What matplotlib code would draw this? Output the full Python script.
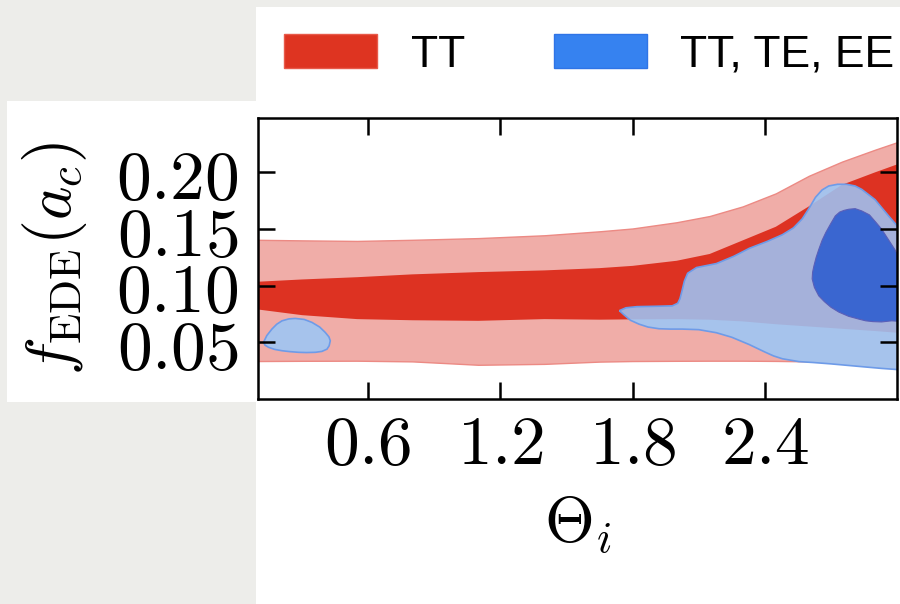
import matplotlib
matplotlib.use('Agg')
import matplotlib.pyplot as plt
from matplotlib.patches import Patch, Rectangle

plt.rcParams['mathtext.fontset'] = 'cm'

# TT chain: 1 and 2 sigma bands, theta_i vs f_EDE
red_x = [0.10, 0.30, 0.55, 0.80, 1.10, 1.40, 1.65, 1.80, 2.00, 2.15, 2.30, 2.45, 2.60, 2.75, 2.90, 3.00]
red_2s_hi = [0.1405, 0.1400, 0.1395, 0.1405, 0.1420, 0.1445, 0.1480, 0.1505, 0.1560, 0.1615,
             0.1700, 0.1815, 0.1970, 0.2095, 0.2200, 0.2266]
red_2s_lo = [0.0335, 0.0337, 0.0338, 0.0332, 0.0302, 0.0310, 0.0330, 0.0335, 0.0337, 0.0338,
             0.0338, 0.0336, 0.0332, 0.0325, 0.0316, 0.0310]
red_1s_hi = [0.1035, 0.1055, 0.1075, 0.1100, 0.1120, 0.1135, 0.1155, 0.1175, 0.1220, 0.1280,
             0.1400, 0.1520, 0.1700, 0.1890, 0.2000, 0.2070]
red_1s_lo = [0.0790, 0.0740, 0.0705, 0.0695, 0.0690, 0.0705, 0.0700, 0.0703, 0.0705, 0.0700,
             0.0685, 0.0660, 0.0640, 0.0620, 0.0600, 0.0585]

# TT,TE,EE chain: 2 sigma contour (big region + small island), 1 sigma contour
blue_2s_x = [1.74, 1.77, 1.82, 1.90, 1.98, 2.005, 2.015, 2.025, 2.035, 2.05, 2.09, 2.18, 2.26,
             2.33, 2.41, 2.48, 2.53, 2.57, 2.60, 2.63, 2.66, 2.69, 2.73, 2.77, 2.81, 2.84, 2.90,
             2.96, 3.00, 3.05, 3.05, 3.00, 2.93, 2.86, 2.78, 2.70, 2.62, 2.555, 2.48, 2.44, 2.40,
             2.33, 2.25, 2.18, 2.10, 2.025, 1.97, 1.92, 1.87, 1.83, 1.79, 1.76]
blue_2s_y = [0.078, 0.0805, 0.0815, 0.0818, 0.0822, 0.0845, 0.0885, 0.0960, 0.1040, 0.1110,
             0.1160, 0.1195, 0.1260, 0.1330, 0.1390, 0.1450, 0.1510, 0.1590, 0.1680, 0.1780,
             0.1845, 0.1880, 0.1895, 0.1895, 0.1880, 0.1850, 0.1760, 0.1620, 0.1530, 0.1400,
             0.0200, 0.0260, 0.0270, 0.0282, 0.0296, 0.0310, 0.0322, 0.0330, 0.0355, 0.0380,
             0.0415, 0.0480, 0.0545, 0.0585, 0.0612, 0.0617, 0.0617, 0.0620, 0.0635, 0.0660,
             0.0695, 0.0745]
blue_isl_x = [0.125, 0.140, 0.163, 0.185, 0.209, 0.240, 0.269, 0.310, 0.345, 0.380, 0.405, 0.422,
              0.428, 0.423, 0.413, 0.390, 0.360, 0.320, 0.284, 0.245, 0.209, 0.175, 0.148, 0.132]
blue_isl_y = [0.0500, 0.0560, 0.0617, 0.0660, 0.0690, 0.0707, 0.0711, 0.0702, 0.0676, 0.0635,
              0.0588, 0.0548, 0.0514, 0.0470, 0.0440, 0.0420, 0.0412, 0.0410, 0.0412, 0.0418,
              0.0426, 0.0438, 0.0456, 0.0475]
blue_1s_x = [2.76, 2.782, 2.81, 2.84, 2.875, 2.904, 2.93, 2.95, 2.99, 3.05, 3.05, 2.976, 2.93,
             2.89, 2.858, 2.827, 2.78, 2.736, 2.70, 2.67, 2.645, 2.625, 2.615, 2.617, 2.623,
             2.633, 2.645, 2.660, 2.677, 2.70, 2.72, 2.74]
blue_1s_y = [0.1665, 0.1675, 0.1680, 0.1660, 0.1625, 0.1560, 0.1500, 0.1440, 0.1320, 0.1100,
             0.0680, 0.0690, 0.0680, 0.0683, 0.0690, 0.0705, 0.0730, 0.0767, 0.0810, 0.0860,
             0.0910, 0.0985, 0.1060, 0.1120, 0.1175, 0.1250, 0.1320, 0.1400, 0.1470, 0.1550,
             0.1616, 0.1650]

x_ticks = [0.6, 1.2, 1.8, 2.4]
y_ticks = [0.05, 0.10, 0.15, 0.20]
labels = ['TT', 'TT, TE, EE']

c_red_light = '#F0ADA8'
c_red_dark = '#DD3222'
c_blue_light = '#A6C3EC'
c_blue_mix = '#A5B1DA'
c_blue_dark = '#3A66D0'

fig = plt.figure(figsize=(9, 6.04), dpi=100, facecolor='#EDEDEA')
# white paper pieces behind the plot
fig.patches.append(Rectangle((256 / 900, 0), 1, 1 - 7 / 604, transform=fig.transFigure,
                             facecolor='white', edgecolor='none', zorder=-10))
fig.patches.append(Rectangle((7 / 900, 1 - 402 / 604), 0.3, 301 / 604, transform=fig.transFigure,
                             facecolor='white', edgecolor='none', zorder=-10))

ax = fig.add_axes([258 / 900, 1 - 399 / 604, 639 / 900, 281 / 604])
ax.set_facecolor('white')

ax.fill_between(red_x, red_2s_lo, red_2s_hi, facecolor=c_red_light, edgecolor='#EC8A84', lw=1.0)
red_core = ax.fill(red_x + red_x[::-1], red_1s_lo + red_1s_hi[::-1], facecolor=c_red_dark,
                   edgecolor='none')[0]

ax.fill(blue_isl_x, blue_isl_y, facecolor=c_blue_light, edgecolor='#6E9BE8', lw=1.2)
ax.fill(blue_2s_x, blue_2s_y, facecolor=c_blue_light, edgecolor='none')
mix = ax.fill(blue_2s_x, blue_2s_y, facecolor=c_blue_mix, edgecolor='none')[0]
mix.set_clip_path(red_core)
ax.fill(blue_2s_x, blue_2s_y, facecolor='none', edgecolor='#6E9BE8', lw=1.2)
ax.fill(blue_1s_x, blue_1s_y, facecolor=c_blue_dark, edgecolor='#5a5fb8', lw=0.8)

ax.set_xlim(0.1, 3.0)
ax.set_ylim(0.0, 0.248)
ax.set_xticks(x_ticks)
ax.set_xticklabels(['$%.1f$' % v for v in x_ticks])
ax.set_yticks(y_ticks)
ax.set_yticklabels(['$%.2f$' % v for v in y_ticks])
ax.tick_params(direction='in', length=12, width=1.8, top=True, right=True, labelsize=50)
ax.tick_params(axis='x', pad=9)
ax.tick_params(axis='y', pad=14)
for s in ax.spines.values():
    s.set_linewidth(1.8)

ax.set_xlabel(r'$\Theta_i$', fontsize=46)
ax.set_ylabel(r'$f_{\rm EDE}(a_c)$', fontsize=46)
ax.xaxis.set_label_coords(0.5, -0.34)
ax.yaxis.set_label_coords(-0.265, 0.5)

handles = [Patch(facecolor='#DE3421', edgecolor='#E85A4A', lw=1),
           Patch(facecolor='#3682F0', edgecolor='#2F74E6', lw=1)]
fig.legend(handles, labels, loc='center left', bbox_to_anchor=(284 / 900, 1 - 55 / 604),
           ncol=2, frameon=False, borderpad=0, borderaxespad=0,
           prop={'family': 'Liberation Sans', 'size': 32},
           handlelength=2.1, handleheight=0.78, handletextpad=0.75, columnspacing=2.0)

fig.savefig('out.png', dpi=100, facecolor=fig.get_facecolor())
